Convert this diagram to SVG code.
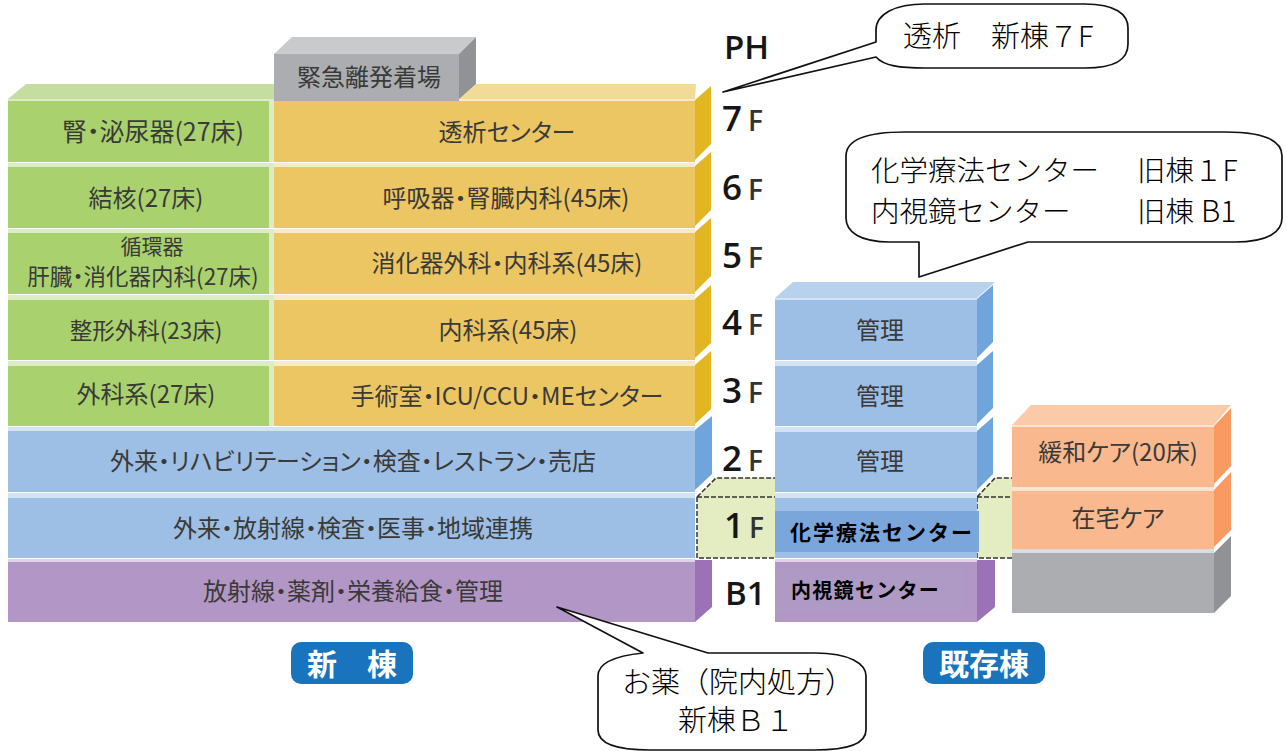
<svg xmlns="http://www.w3.org/2000/svg" width="1287" height="751" viewBox="0 0 1287 751">
<style>
text{font-family:"Noto Sans CJK JP","Noto Sans",sans-serif;text-anchor:middle}
.l{font-size:24px;fill:#3a3a38;font-feature-settings:"palt"}
.c{font-size:29px;fill:#000;font-weight:300}
.st{text-anchor:start}
.f{font-family:"Open Sans","Liberation Sans",sans-serif;font-weight:600;fill:#161616;text-anchor:start}
.b{font-size:35px}
.s{font-size:28px;font-weight:600;fill:#333}
.ph{font-size:33px}
.g{fill:#a9d16e}.gt{fill:#c5de9f}.gl{fill:#dcecc4}
.o{fill:#ecc662}.ot{fill:#f2da97}.os{fill:#e2b522}.ol{fill:#f8ebc8}
.bl{fill:#9dbfe5}.blt{fill:#b8d2ee}.bls{fill:#6fa5da}.bll{fill:#d2e3f4}
.p{fill:#b296c6}.ps{fill:#9a72b5}.pl{fill:#e0d3e8}
.r{fill:#f9b88e}.rt{fill:#fbcba9}.rs{fill:#f99a62}.rl{fill:#fde3d2}
.y{fill:#abadb0}.ys{fill:#909295}.yt{fill:#c8cacc}.yl{fill:#dcdcde}
.d{fill:none;stroke:#333;stroke-width:1.5;stroke-dasharray:5 2}
.m{fill:#e4ecc2}
.call{fill:#fff;stroke:#111;stroke-width:1.7;stroke-linejoin:round}
.tag{fill:#1a74bd}
.w{font-size:30px;font-weight:700;fill:#fff}
.k{font-weight:700;fill:#000;text-anchor:start}
</style>
<rect width="1287" height="751" fill="#fff"/>
<g id="connectors">
<polygon class="m" points="697,497 716,478 775,478 775,558 697,558"/>
<polygon class="m" points="977,497 995,478 1012,478 1012,558 977,558"/>
<path class="d" d="M697,497L716,478H775M697,497H775M697,497V558H775M977,497L995,478H1012M977,497H1012M977,497V558H1012"/>
</g>
<g id="heliport">
<polygon class="yt" points="274,54 292,37 476,37 459,54"/>
<polygon class="ys" points="459,54 476,37 476,84 459,100"/>
<rect class="y" x="274" y="54" width="185" height="47"/>
<text class="l" x="369" y="86">緊急離発着場</text>
</g>
<g id="new-top">
<polygon class="gt" points="8,99 26,84 274,84 274,99"/>
<polygon class="ot" points="459,99 476,84 696,84 695,99"/>
<rect class="gl" x="8" y="99" width="266" height="2"/>
<rect class="ol" x="459" y="99" width="236" height="2"/>
</g>
<g id="new-7f">
<polygon class="os" points="695,100 711,86 711,144 695,160"/>
<rect class="g" x="8" y="101" width="261" height="61"/><rect class="gl" x="269" y="101" width="5" height="61"/><rect class="o" x="274" y="101" width="421" height="61"/>
<text class="l" x="153" y="141" style="font-size:25px">腎・泌尿器(27床)</text><text class="l" x="507" y="141">透析センター</text>
</g>
<g id="new-6f">
<polygon class="os" points="695,166 711,152 711,210 695,226"/>
<rect class="gl" x="8" y="163" width="266" height="4"/><rect class="ol" x="274" y="163" width="421" height="4"/>
<rect class="g" x="8" y="167" width="261" height="61"/><rect class="gl" x="269" y="167" width="5" height="61"/><rect class="o" x="274" y="167" width="421" height="61"/>
<text class="l" x="146" y="207">結核(27床)</text><text class="l" x="506" y="207">呼吸器・腎臓内科(45床)</text>
</g>
<g id="new-5f">
<polygon class="os" points="695,232 711,218 711,276 695,292"/>
<rect class="gl" x="8" y="229" width="266" height="4"/><rect class="ol" x="274" y="229" width="421" height="4"/>
<rect class="g" x="8" y="233" width="261" height="61"/><rect class="gl" x="269" y="233" width="5" height="61"/><rect class="o" x="274" y="233" width="421" height="61"/>
<text class="l" x="152" y="254" style="font-size:21px">循環器</text><text class="l" x="143" y="285" style="font-size:22.5px">肝臓・消化器内科(27床)</text><text class="l" x="507" y="272">消化器外科・内科系(45床)</text>
</g>
<g id="new-4f">
<polygon class="os" points="695,299 711,285 711,343 695,358"/>
<rect class="gl" x="8" y="295" width="266" height="5"/><rect class="ol" x="274" y="295" width="421" height="5"/>
<rect class="g" x="8" y="300" width="261" height="60"/><rect class="gl" x="269" y="300" width="5" height="60"/><rect class="o" x="274" y="300" width="421" height="60"/>
<text class="l" x="146" y="339" style="font-size:22.5px">整形外科(23床)</text><text class="l" x="508" y="339">内科系(45床)</text>
</g>
<g id="new-3f">
<polygon class="os" points="695,365 711,351 711,409 695,424"/>
<rect class="gl" x="8" y="361" width="266" height="5"/><rect class="ol" x="274" y="361" width="421" height="5"/>
<rect class="g" x="8" y="366" width="261" height="60"/><rect class="gl" x="269" y="366" width="5" height="60"/><rect class="o" x="274" y="366" width="421" height="60"/>
<text class="l" x="146" y="403">外科系(27床)</text><text class="l" x="507" y="405">手術室・ICU/CCU・MEセンター</text>
</g>
<g id="new-2f">
<polygon class="bls" points="695,430 712,416 712,474 695,490"/>
<rect class="bll" x="8" y="427" width="687" height="4"/>
<rect class="bl" x="8" y="431" width="687" height="61"/>
<text class="l" x="353" y="470">外来・リハビリテーション・検査・レストラン・売店</text>
</g>
<g id="new-1f">
<rect class="bll" x="8" y="493" width="687" height="5"/>
<rect class="bl" x="8" y="498" width="687" height="60"/>
<text class="l" x="353" y="537">外来・放射線・検査・医事・地域連携</text>
</g>
<g id="new-b1">
<polygon class="ps" points="695,560 712,560 712,607 695,622"/>
<rect class="pl" x="8" y="559" width="687" height="3"/>
<rect class="p" x="8" y="562" width="687" height="60"/>
<text class="l" x="353" y="600">放射線・薬剤・栄養給食・管理</text>
</g>
<g id="floors">
<text class="f ph" x="724" y="59">PH</text>
<text class="f b" x="722" y="131">7<tspan class="s" dx="6">F</tspan></text>
<text class="f b" x="722" y="200">6<tspan class="s" dx="6">F</tspan></text>
<text class="f b" x="722" y="268">5<tspan class="s" dx="6">F</tspan></text>
<text class="f b" x="722" y="335">4<tspan class="s" dx="6">F</tspan></text>
<text class="f b" x="722" y="403">3<tspan class="s" dx="6">F</tspan></text>
<text class="f b" x="722" y="471">2<tspan class="s" dx="6">F</tspan></text>
<text class="f b" x="724" y="538">1<tspan class="s" dx="5">F</tspan></text>
<text class="f ph" x="725" y="605">B1</text>
</g>
<g id="old-top">
<polygon class="blt" points="775,298 793,282 995,282 977,298"/>
<rect class="bll" x="775" y="298" width="202" height="2"/>
</g>
<g id="old-4f">
<polygon class="bls" points="977,299 993,285 993,342 977,358"/>
<rect class="bl" x="775" y="300" width="202" height="60"/><text class="l" x="880" y="339">管理</text>
</g>
<g id="old-3f">
<polygon class="bls" points="977,365 993,351 993,408 977,424"/>
<rect class="bll" x="775" y="361" width="202" height="5"/>
<rect class="bl" x="775" y="366" width="202" height="60"/><text class="l" x="880" y="405">管理</text>
</g>
<g id="old-2f">
<polygon class="bls" points="977,431 993,417 993,474 977,490"/>
<rect class="bll" x="775" y="427" width="202" height="5"/>
<rect class="bl" x="775" y="432" width="202" height="60"/><text class="l" x="880" y="470">管理</text>
</g>
<g id="old-1f">
<rect class="bll" x="775" y="493" width="202" height="5"/>
<rect class="bl" x="775" y="498" width="202" height="60"/>
<rect x="775" y="511" width="204" height="41" fill="#7ba6dc"/>
<text class="k" x="790" y="540" style="font-size:21px;letter-spacing:2px">化学療法センター</text>
</g>
<g id="old-b1">
<polygon class="ps" points="977,560 995,560 995,607 977,622"/>
<rect class="pl" x="775" y="559" width="202" height="3"/>
<rect class="p" x="775" y="562" width="202" height="60"/>
<rect x="775" y="568" width="188" height="44" fill="#ae9ac4"/>
<text class="k" x="791" y="598" style="font-size:20px;letter-spacing:1.3px">内視鏡センター</text>
</g>
<g id="care-top">
<polygon class="rt" points="1012,425 1031,405 1231,405 1214,425"/>
<rect class="rl" x="1012" y="425" width="202" height="2"/>
</g>
<g id="care-palliative">
<polygon class="rs" points="1214,426 1231,408 1231,466 1214,484"/>
<rect class="r" x="1012" y="427" width="202" height="60"/><text class="l" x="1118" y="461">緩和ケア(20床)</text>
</g>
<g id="care-home">
<polygon class="rs" points="1214,490 1231,472 1231,530 1214,547"/>
<rect class="rl" x="1012" y="487" width="202" height="4"/>
<rect class="r" x="1012" y="491" width="202" height="58"/><text class="l" x="1118" y="527">在宅ケア</text>
</g>
<g id="care-base">
<polygon class="ys" points="1214,553 1231,536 1231,596 1214,613"/>
<rect class="yl" x="1012" y="549" width="202" height="4"/>
<rect class="y" x="1012" y="553" width="202" height="60"/>
</g>
<g id="tag-new"><rect class="tag" x="291" y="642" width="122" height="42" rx="10"/><text class="w" x="352" y="675">新　棟</text></g>
<g id="tag-old"><rect class="tag" x="923" y="642" width="122" height="42" rx="10"/><text class="w" x="984" y="675">既存棟</text></g>
<g id="callout-dialysis">
<path class="call" d="M723,92L876,42V30C876,14 895,4 925,4H1085C1115,4 1128,14 1128,28V44C1128,60 1115,68 1085,68H925C900,68 884,66 876,57Z"/>
<text class="c st" x="903" y="47">透析</text>
<text class="c st" x="991" y="47">新棟７F</text>
</g>
<g id="callout-center">
<path class="call" d="M919,277V242H890C860,242 846,232 846,218V156C846,142 862,132 905,132H1225C1268,132 1282,142 1282,156V218C1282,232 1268,242 1235,242H1028Z"/>
<text class="c st" x="871" y="181" style="font-size:28.5px">化学療法センター<tspan x="1137">旧棟１F</tspan></text>
<text class="c st" x="871" y="222" style="font-size:28.5px">内視鏡センター<tspan x="1137">旧棟</tspan><tspan x="1201" style="font-size:30px">B1</tspan></text>
</g>
<g id="callout-medicine">
<path class="call" d="M557,607L708,653H815C850,653 866,664 866,676V730C866,743 850,750 815,750H650C614,750 598,743 598,730V676C598,664 614,656 643,653Z"/>
<text class="c" x="738" y="693">お薬（院内処方）</text>
<text class="c" x="736" y="731">新棟Ｂ１</text>
</g>
</svg>
